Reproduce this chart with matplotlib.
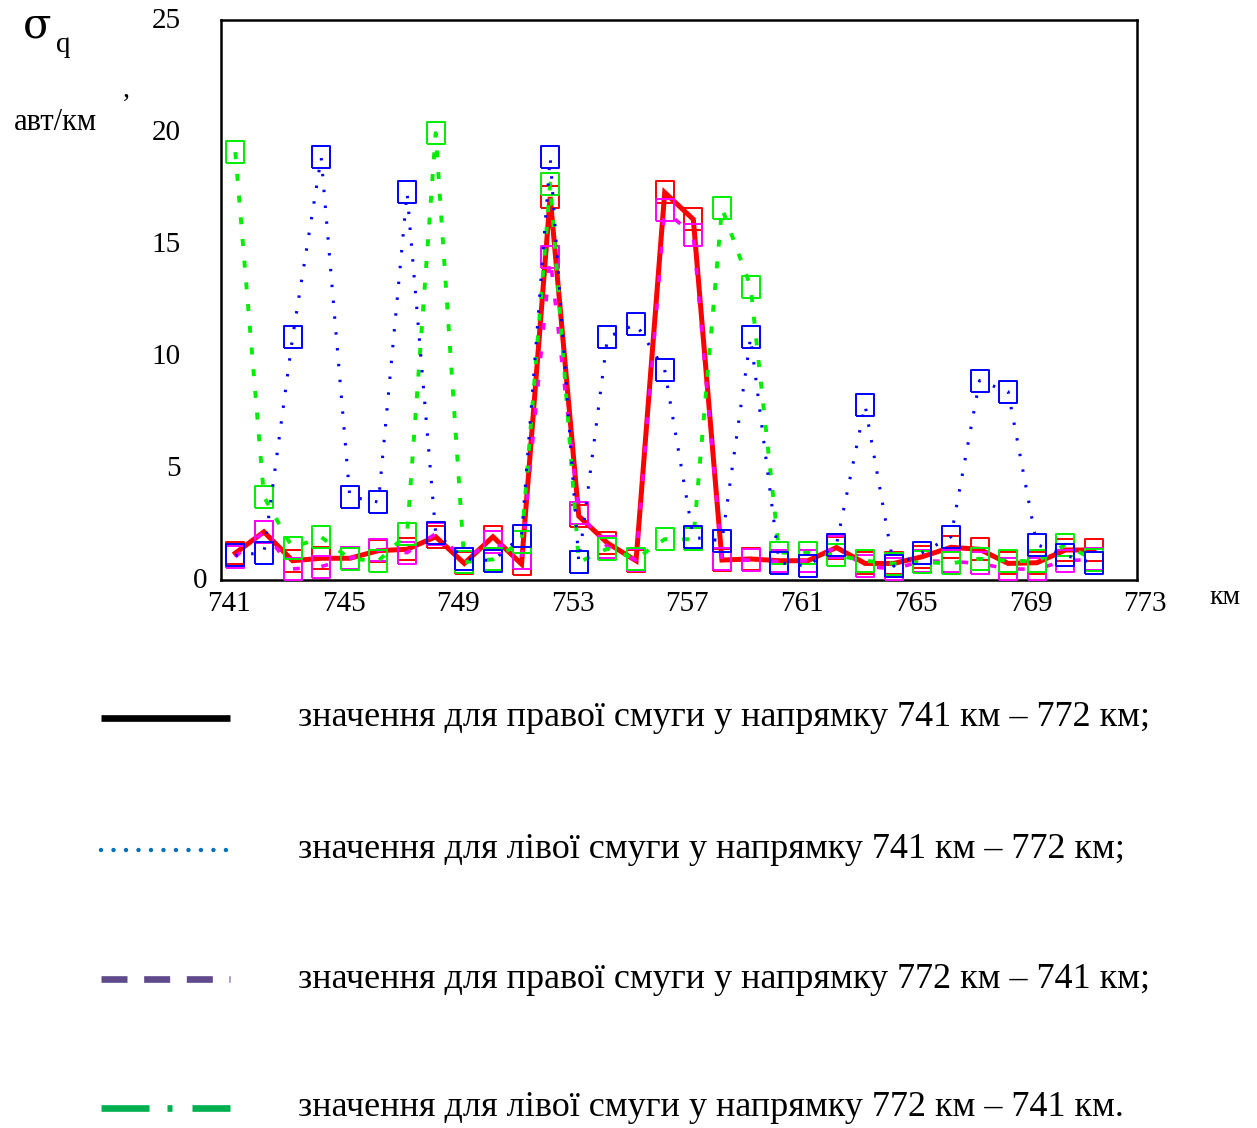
import matplotlib
matplotlib.use("Agg")
import matplotlib.pyplot as plt
import matplotlib.transforms as mtransforms
from matplotlib.lines import Line2D

plt.rcParams['font.family'] = ['Liberation Serif', 'DejaVu Serif']

# kilometre-section midpoints
km = [741.5, 742.5, 743.5, 744.5, 745.5, 746.5, 747.5, 748.5, 749.5, 750.5,
      751.5, 752.5, 753.5, 754.5, 755.5, 756.5, 757.5, 758.5, 759.5, 760.5,
      761.5, 762.5, 763.5, 764.5, 765.5, 766.5, 767.5, 768.5, 769.5, 770.5,
      771.5]

# right lane, direction 741 -> 772 km
right_fwd = [1.2, 2.15, 0.86, 0.97, 0.97, 1.31, 1.37, 1.93, 0.74, 1.93,
             0.71, 17.1, 2.85, 1.65, 0.86, 17.3, 16.1, 0.89, 0.94, 0.86,
             0.86, 1.45, 0.74, 0.74, 1.04, 1.46, 1.37, 0.74, 0.77, 1.34,
             1.34]
# left lane, direction 741 -> 772 km
left_fwd = [1.1, 1.22, 10.83, 18.87, 3.72, 3.48, 17.3, 2.1, 0.95, 0.86,
            1.96, 18.87, 0.8, 10.83, 11.43, 9.38, 1.9, 1.75, 10.83, 0.77,
            0.62, 1.58, 7.81, 0.62, 1.22, 1.93, 8.9, 8.4, 1.58, 1.1,
            0.75]
# right lane, direction 772 -> 741 km
right_back = [1.04, 2.16, 0.49, 0.6, 0.97, 1.34, 1.22, 2.07, 0.95, 1.71,
              0.97, 14.4, 2.98, 1.49, 0.89, 16.5, 15.4, 0.92, 0.88, 0.83,
              0.86, 1.46, 0.62, 0.49, 0.85, 0.83, 0.74, 0.49, 0.49, 0.86,
              0.92]
# left lane, direction 772 -> 741 km
left_back = [19.1, 3.72, 1.43, 1.92, 0.94, 0.86, 2.05, 19.95, 0.8, 0.92,
             1.7, 17.7, 0.79, 1.4, 0.95, 1.82, 1.82, 16.6, 13.1, 1.22,
             1.22, 1.1, 0.86, 0.73, 0.8, 0.74, 0.95, 0.86, 0.83, 1.58,
             0.89]

x_ticks = [741, 745, 749, 753, 757, 761, 765, 769, 773]
y_ticks = [0, 5, 10, 15, 20, 25]

legend_labels = [
    "значення для правої смуги у напрямку 741 км – 772 км;",
    "значення для лівої смуги у напрямку 741 км – 772 км;",
    "значення для правої смуги у напрямку 772 км – 741 км;",
    "значення для лівої смуги у напрямку 772 км – 741 км.",
]

W, H = 1257, 1128
fig = plt.figure(figsize=(W / 100, H / 100), dpi=100)
ax = fig.add_axes([221 / W, 1 - 580 / H, (1137 - 221) / W, (580 - 20) / H])

box = [(-0.38, -0.5), (0.38, -0.5), (0.38, 0.5), (-0.38, 0.5), (-0.38, -0.5)]
mk = dict(marker=box, markersize=16.5, markerfacecolor='none', markeredgewidth=1.4)

ax.plot(km, right_fwd, color='#ff0000', lw=3.6, solid_joinstyle='miter',
        markeredgecolor='#ff0000', zorder=2, **mk)
ax.plot(km, right_back, color='#ff00ff', lw=2.6, linestyle=(0, (1.9, 6.0)),
        markeredgecolor='#ff00ff', zorder=3, **mk)
ax.plot(km, left_back, color='#00ee00', lw=2.8, linestyle=(0, (1.8, 3.8)),
        markeredgecolor='#00ee00', zorder=4, **mk)
ax.plot(km, left_fwd, color='#0000ff', lw=2.2, linestyle=(0, (0.8, 4.4)),
        markeredgecolor='#0000ff', zorder=5, **mk)

ax.set_xlim(741, 773)
ax.set_ylim(0, 25)
for s in ax.spines.values():
    s.set_linewidth(1.8)

ax.set_xticks(x_ticks)
ax.set_xticklabels([str(t) for t in x_ticks], fontsize=21)
ax.set_yticks(y_ticks)
ax.set_yticklabels([str(t) for t in y_ticks], fontsize=21)
ax.tick_params(length=0)
ax.tick_params(axis='x', pad=8)
ax.tick_params(axis='y', pad=29)

dx = mtransforms.ScaledTranslation(8 / 100, 0, fig.dpi_scale_trans)
for lab in ax.get_xticklabels():
    lab.set_transform(lab.get_transform() + dx)
ylabs = ax.get_yticklabels()
for lab in ylabs:
    lab.set_transform(lab.get_transform() +
                      mtransforms.ScaledTranslation(0, 2 / 100, fig.dpi_scale_trans))
ylabs[0].set_transform(ylabs[0].get_transform() +
                       mtransforms.ScaledTranslation(27 / 100, 0, fig.dpi_scale_trans))

# axis captions
fig.text(1225 / W, 1 - 598 / H, "км", fontsize=20, ha='center', va='center')
fig.text(37 / W, 1 - 26 / H, "σ", fontsize=30, ha='center', va='center',
         family=['DejaVu Serif'])
fig.text(63 / W, 1 - 45 / H, "q", fontsize=21, ha='center', va='center')
fig.text(126 / W, 1 - 90 / H, ",", fontsize=20, ha='center', va='center')
fig.text(55 / W, 1 - 123 / H, "авт/км", fontsize=22, ha='center', va='center')

# legend drawn beneath the chart
rows = [718, 850, 979, 1108]
styles = [
    dict(color='black', lw=4.8, solid_capstyle='butt'),
    dict(color='#0070c0', lw=3.2, linestyle=(0, (0.01, 2.8)), dash_capstyle='round'),
    dict(color='#5f4b8b', lw=4.8, linestyle=(0, (3.9, 2.5)), dash_capstyle='butt'),
    dict(color='#00b050', lw=4.8, linestyle=(0, (7.2, 2.7, 0.75, 3.0)), dash_capstyle='butt'),
]
for yp, st, lab in zip(rows, styles, legend_labels):
    fy = 1 - yp / H
    fig.add_artist(Line2D([101 / W, 230 / W], [fy, fy], transform=fig.transFigure, **st))
    fig.text(298 / W, fy, lab, fontsize=26, ha='left', va='center')

fig.savefig("out.png", dpi=100)
